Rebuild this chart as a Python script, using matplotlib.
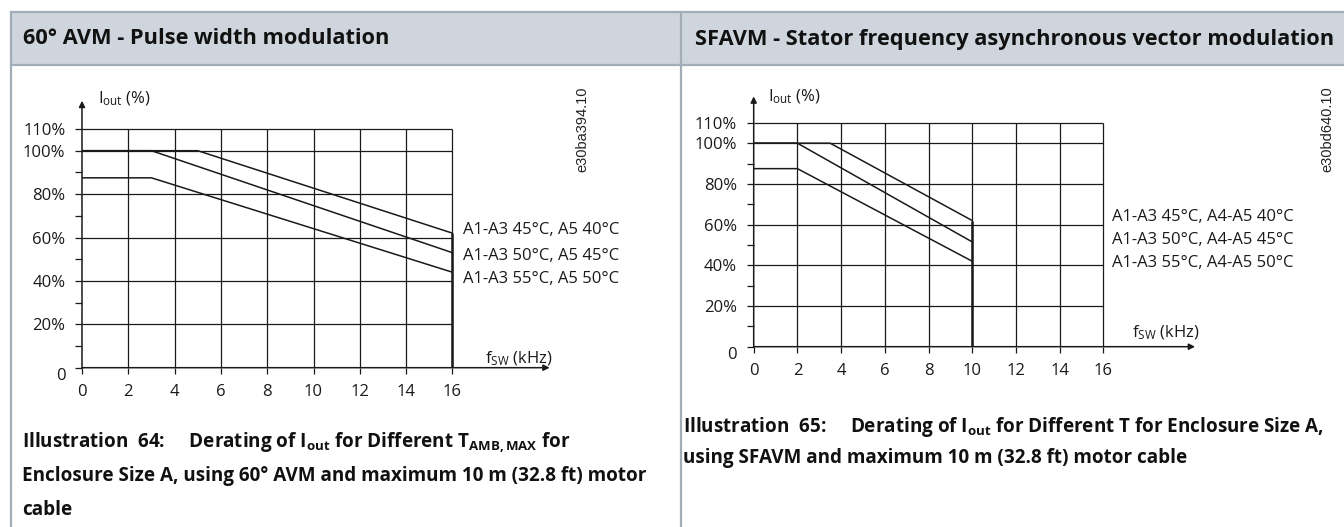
import matplotlib
matplotlib.use("Agg")
import matplotlib.pyplot as plt
from matplotlib.patches import Rectangle
from matplotlib.lines import Line2D

plt.rcParams["font.family"] = ["Open Sans", "DejaVu Sans"]
plt.rcParams["mathtext.fontset"] = "custom"
plt.rcParams["mathtext.rm"] = "Open Sans"
plt.rcParams["mathtext.bf"] = "Open Sans:bold"
plt.rcParams["mathtext.it"] = "Open Sans:italic"

# ---- data ----
y_ticks = [0, 20, 40, 60, 80, 100, 110]
y_tick_labels = ["0", "20%", "40%", "60%", "80%", "100%", "110%"]
y_minor = [10, 30, 50, 70, 90]
x_ticks = [0, 2, 4, 6, 8, 10, 12, 14, 16]

avm_x = [[0, 5, 16], [0, 3, 16], [0, 3, 16]]
avm_y = [[100, 100, 62], [100, 100, 53], [87.5, 87.5, 44]]
avm_labels = ["A1-A3 45°C, A5 40°C", "A1-A3 50°C, A5 45°C", "A1-A3 55°C, A5 50°C"]
avm_fmax = 16

sfavm_x = [[0, 3.5, 10], [0, 2, 10], [0, 2, 10]]
sfavm_y = [[100, 100, 62], [100, 100, 51.5], [87.5, 87.5, 42]]
sfavm_labels = ["A1-A3 45°C, A4-A5 40°C", "A1-A3 50°C, A4-A5 45°C", "A1-A3 55°C, A4-A5 50°C"]
sfavm_fmax = 10

W, H = 1344, 527
BORDER = "#a3adb8"
HEADER = "#ced5dc"
INK = "#1a1a1a"
FS = 12


def px(x, y):
    return x / W, 1 - y / H


def draw_chart(ax, xs, ys, labels, fmax, label_x, label_y, fsw_pos, iout_pos):
    ax.set_xlim(0, 20.5)
    ax.set_ylim(0, 126)
    for s in ax.spines.values():
        s.set_visible(False)
    ax.set_facecolor("none")

    # grid box 0..16 x 0..110
    ax.vlines(x_ticks[1:], 0, 110, color=INK, lw=0.9)
    ax.hlines(y_ticks[1:], 0, 16, color=INK, lw=0.9)

    for x, y in zip(xs, ys):
        ax.plot(x, y, color=INK, lw=1.1, solid_capstyle="butt")
    ax.vlines(fmax, 0, max(y[-1] for y in ys), color=INK, lw=1.8)

    for lab, ly in zip(labels, label_y):
        ax.text(label_x, ly, lab, fontsize=FS, va="center", ha="left", color=INK)

    # axes with arrows
    ax.annotate("", xy=(20.2, 0), xytext=(0, 0),
                arrowprops=dict(arrowstyle="-|>", color=INK, lw=1.1, mutation_scale=9,
                                shrinkA=0, shrinkB=0), annotation_clip=False)
    ax.annotate("", xy=(0, 123), xytext=(0, 0),
                arrowprops=dict(arrowstyle="-|>", color=INK, lw=1.1, mutation_scale=9,
                                shrinkA=0, shrinkB=0), annotation_clip=False)

    ax.set_xticks(x_ticks)
    ax.set_xticklabels([str(t) for t in x_ticks])
    ax.set_yticks(y_ticks)
    ax.set_yticklabels(y_tick_labels)
    ax.set_yticks(y_minor, minor=True)
    ax.tick_params(axis="x", length=4, width=0.9, pad=8, labelsize=FS, colors=INK)
    ax.tick_params(axis="y", which="both", length=5, width=0.9, pad=7, labelsize=FS, colors=INK)
    ax.get_yticklabels()[0].set_verticalalignment("top")

    ax.text(fsw_pos[0], fsw_pos[1], r"$\mathrm{f_{SW}}$ (kHz)", fontsize=FS,
            ha="left", va="center", color=INK)
    ax.text(iout_pos[0], iout_pos[1], r"$\mathrm{I_{out}}$ (%)", fontsize=FS,
            ha="left", va="center", color=INK)


fig = plt.figure(figsize=(W / 100, H / 100), dpi=100)

# table frame and header band
fig.patches.append(Rectangle(px(11, 65), (W - 11) / W, 53 / H, transform=fig.transFigure,
                             facecolor=HEADER, edgecolor="none", zorder=0))
for (x0, y0), (x1, y1) in [((11, 12), (W, 12)), ((11, 65), (W, 65)),
                           ((11, 12), (11, H)), ((681, 12), (681, H))]:
    a, b = px(x0, y0)
    c, d = px(x1, y1)
    fig.add_artist(Line2D([a, c], [b, d], color=BORDER, lw=1.6, transform=fig.transFigure))

fig.text(*px(23, 39), "60° AVM - Pulse width modulation", fontsize=15.7, weight="bold",
         va="center", ha="left", color="#111")
fig.text(*px(695, 39), "SFAVM - Stator frequency asynchronous vector modulation", fontsize=15.7,
         weight="bold", va="center", ha="left", color="#111")

# left chart: x0 at 82 px, 23.15 px/kHz ; y0 at 367.7 px, 2.17 px/%
ax1 = fig.add_axes([82 / W, (H - 367.7) / H, 20.5 * 23.15 / W, 126 * 2.17 / H])
draw_chart(ax1, avm_x, avm_y, avm_labels, avm_fmax, 16.45, [63.5, 51.5, 40.7],
           (17.4, 4.0), (0.7, 124))

# right chart: x0 at 753.7 px, 21.85 px/kHz ; y0 at 346.7 px, 2.035 px/%
ax2 = fig.add_axes([753.7 / W, (H - 346.7) / H, 20.5 * 21.85 / W, 126 * 2.035 / H])
draw_chart(ax2, sfavm_x, sfavm_y, sfavm_labels, sfavm_fmax, 16.4, [63.9, 52.4, 41.0],
           (17.3, 6.9), (0.65, 123))

fig.text(*px(582, 129), "e30ba394.10", rotation=90, fontsize=10.5, family="Liberation Sans",
         ha="center", va="center", color="#222")
fig.text(*px(1327, 129), "e30bd640.10", rotation=90, fontsize=10.5, family="Liberation Sans",
         ha="center", va="center", color="#222")

cap_l = [r"Illustration  64:     Derating of $\mathbf{I_{out}}$ for Different $\mathbf{T_{AMB,MAX}}$ for",
         "Enclosure Size A, using 60° AVM and maximum 10 m (32.8 ft) motor",
         "cable"]
for i, line in enumerate(cap_l):
    fig.text(*px(22, 443 + 33.5 * i), line, fontsize=13.6, weight="bold", va="center",
             ha="left", color="#111")
cap_r = [r"Illustration  65:     Derating of $\mathbf{I_{out}}$ for Different T for Enclosure Size A,",
         "using SFAVM and maximum 10 m (32.8 ft) motor cable"]
for i, line in enumerate(cap_r):
    fig.text(*px(683, 427 + 31 * i), line, fontsize=13.6, weight="bold", va="center",
             ha="left", color="#111")

fig.savefig("out.png", dpi=100)
